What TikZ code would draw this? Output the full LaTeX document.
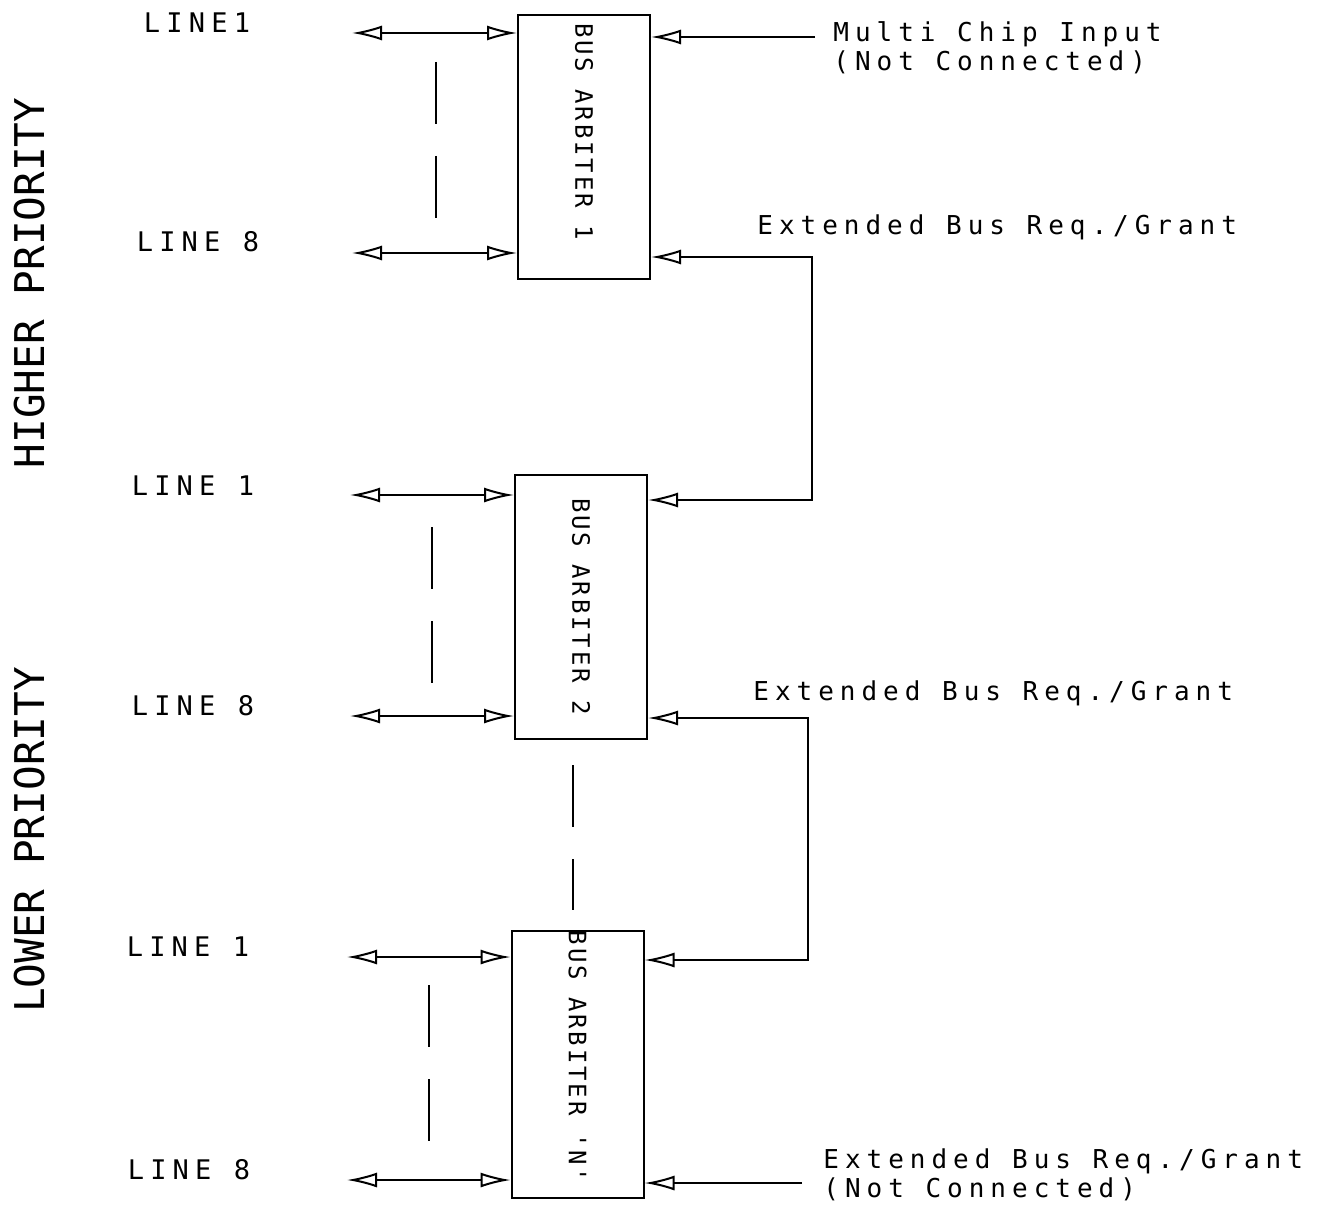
\documentclass[tikz,border=0pt]{standalone}
\usepackage{fontspec}
\newfontfamily\plotfont[LetterSpace=23]{DejaVu Sans Mono}
\newfontfamily\boxfont[LetterSpace=12]{DejaVu Sans Mono}
\newfontfamily\priofont{DejaVu Sans Mono}
\usetikzlibrary{arrows.meta,positioning}

\begin{document}
\begin{tikzpicture}[
  x=0.5pt,y=-0.5pt,
  every node/.style={inner sep=0pt},
  linelabel/.style={font=\plotfont\fontsize{13.5}{15}\selectfont},
  sidelabel/.style={font=\plotfont\fontsize{13}{14.5}\selectfont,anchor=west,align=left},
  prio/.style={font=\priofont\fontsize{20.5}{22}\selectfont,rotate=90},
  arbiter/.style={draw,line width=1pt,minimum width=66pt,minimum height=132pt,font=\boxfont\fontsize{12}{14}\selectfont},
  bus/.style={{Latex[open,length=15pt,width=7.5pt]}-{Latex[open,length=15pt,width=7.5pt]},line width=1pt},
  feed/.style={-{Latex[open,length=15pt,width=7.5pt]},line width=1pt},
  elide/.style={line width=1pt,dash pattern=on 31pt off 16pt}
]
\useasboundingbox (0,0) rectangle (1331,1208);

% arbiters
\node[arbiter] (arb1) at (584,147.5) {\rotatebox{-90}{BUS ARBITER 1\hspace{16pt}}};
\node[arbiter] (arb2) at (581,606.5) {\rotatebox{-90}{BUS ARBITER 2}};
\node[arbiter] (arbn) at (577.5,1064.5) {\rotatebox{-90}{BUS ARBITER 'N'\hspace{8pt}}};

% priority side labels
\node[prio] (high) at (30,283) {HIGHER PRIORITY};
\node[prio] (low) at (30,840) {LOWER PRIORITY};

% line labels
\node[linelabel] (t1a) at (197,23) {LINE1};
\node[linelabel] (t1b) at (198,242) {LINE 8};
\node[linelabel] (t2a) at (193,486) {LINE 1};
\node[linelabel] (t2b) at (193,706) {LINE 8};
\node[linelabel] (t3a) at (188,947) {LINE 1};
\node[linelabel] (t3b) at (189,1170) {LINE 8};

% right hand labels
\node[sidelabel] (mci) at (833,48) {Multi Chip Input\\(Not Connected)};
\node[sidelabel] (ext1) at (757,227) {Extended Bus Req./Grant};
\node[sidelabel] (ext2) at (753,693) {Extended Bus Req./Grant};
\node[sidelabel] (ext3) at (823,1175) {Extended Bus Req./Grant\\(Not Connected)};

% bus lines
\coordinate (b1a) at (352,33);
\coordinate (b1b) at (352,253);
\coordinate (b2a) at (350,495);
\coordinate (b2b) at (350,716);
\coordinate (b3a) at (347,957);
\coordinate (b3b) at (347,1180);
\draw[bus] (b1a) -- (b1a -| arb1.west);
\draw[bus] (b1b) -- (b1b -| arb1.west);
\draw[bus] (b2a) -- (b2a -| arb2.west);
\draw[bus] (b2b) -- (b2b -| arb2.west);
\draw[bus] (b3a) -- (b3a -| arbn.west);
\draw[bus] (b3b) -- (b3b -| arbn.west);

% request/grant chain
\coordinate (mcin) at (815,37);
\coordinate (k1) at (812,257);
\coordinate (k2) at (808,718);
\coordinate (extn) at (802,1183);
\draw[feed] (mcin) -- (mcin -| arb1.east);
\draw[bus] (arb2.east |- 0,500) -| (k1) -- (k1 -| arb1.east);
\draw[bus] (arbn.east |- 0,960) -| (k2) -- (k2 -| arb2.east);
\draw[feed] (extn) -- (extn -| arbn.east);

% elided lines
\draw[elide] (436,62) -- (436,218);
\draw[elide] (432,527) -- (432,693);
\draw[elide] (573,765) -- (573,910);
\draw[elide] (429,985) -- (429,1157);
\end{tikzpicture}
\end{document}
